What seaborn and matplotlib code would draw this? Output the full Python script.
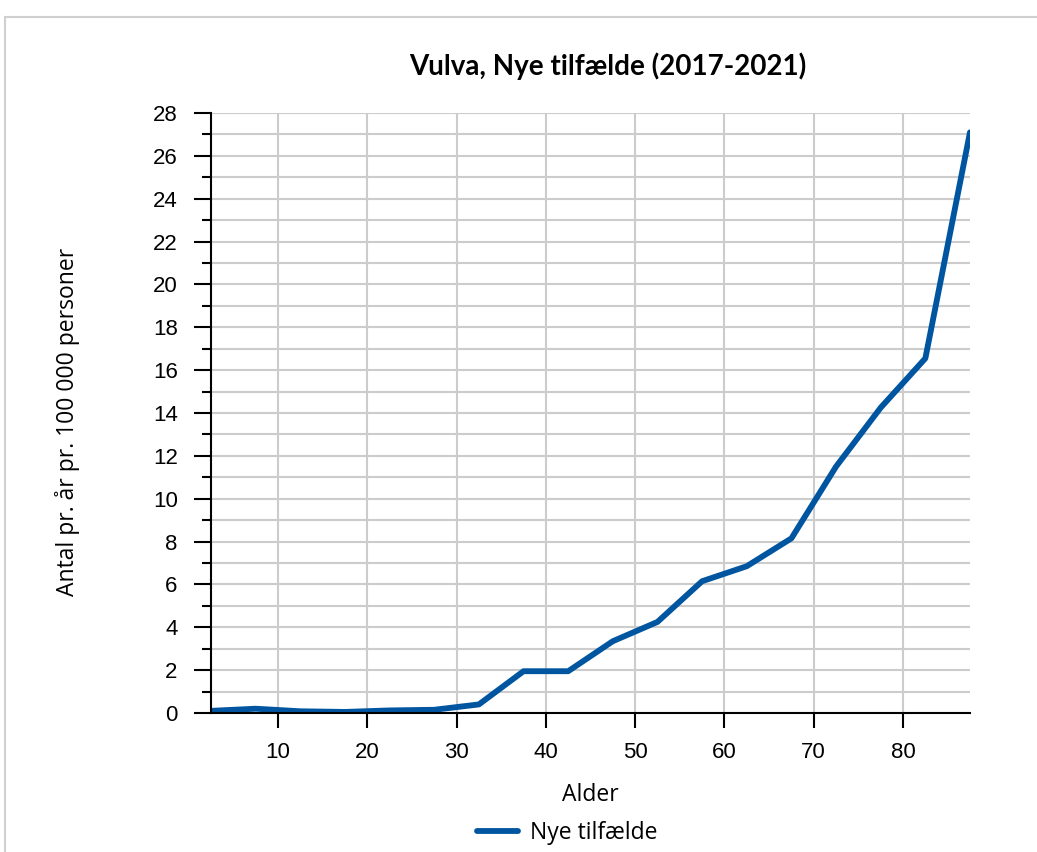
import numpy as np
import pandas as pd
import matplotlib.pyplot as plt
import seaborn as sns
from matplotlib.patches import Rectangle

# Data
alder = [2.5, 7.5, 12.5, 17.5, 22.5, 27.5, 32.5, 37.5, 42.5, 47.5,
         52.5, 57.5, 62.5, 67.5, 72.5, 77.5, 82.5, 87.5]
nye_tilfaelde = [0.1, 0.2, 0.08, 0.05, 0.12, 0.15, 0.4, 1.95, 1.95, 3.35,
                 4.25, 6.15, 6.85, 8.15, 11.5, 14.25, 16.55, 27.1]
x_ticks = [10, 20, 30, 40, 50, 60, 70, 80]
y_ticks = list(range(0, 29, 2))

df = pd.DataFrame({'Alder': alder, 'Nye tilfælde': nye_tilfaelde})

sns.set_style('white')
plt.rcParams['text.color'] = 'black'
plt.rcParams['xtick.color'] = 'black'
plt.rcParams['ytick.color'] = 'black'
line_color = '#0055a0'

fig = plt.figure(figsize=(10.37, 8.52), dpi=100)
ax = fig.add_axes([211 / 1037, 1 - 713 / 852, (970 - 211) / 1037, (713 - 113) / 852])

sns.lineplot(data=df, x='Alder', y='Nye tilfælde', ax=ax, color=line_color,
             linewidth=4.2, label='Nye tilfælde', legend=False)

ax.set_xlim(2.5, 87.5)
ax.set_ylim(0, 28)
ax.set_xticks(x_ticks)
ax.set_yticks(y_ticks)
ax.set_yticks(np.arange(1, 28, 2), minor=True)

ax.grid(True, which='both', axis='y', color='#cccccc', linewidth=1.5)
ax.grid(True, which='major', axis='x', color='#cccccc', linewidth=1.5)
ax.set_axisbelow(True)

for s in ['top', 'right']:
    ax.spines[s].set_visible(False)
for s in ['left', 'bottom']:
    ax.spines[s].set_color('black')
    ax.spines[s].set_linewidth(1.5)

# seaborn's white style hides the ticks, so switch them back on
ax.tick_params(axis='x', which='major', bottom=True, direction='out', length=11, width=1.5,
               colors='black', labelsize=16, pad=10)
ax.tick_params(axis='y', which='major', left=True, direction='out', length=12, width=1.5,
               colors='black', labelsize=16, pad=12)
ax.tick_params(axis='y', which='minor', left=True, direction='out', length=6.5, width=1.5,
               color='black')
for lbl in ax.get_xticklabels() + ax.get_yticklabels():
    lbl.set_fontfamily('Liberation Sans')

ax.set_xlabel('')
ax.set_ylabel('')

fig.text(608 / 1037, 1 - 66 / 852, 'Vulva, Nye tilfælde (2017-2021)', ha='center', va='center',
         fontsize=20, fontweight='bold', family='Lato')
fig.text(590 / 1037, 1 - 795 / 852, 'Alder', ha='center', va='center',
         fontsize=16.5, family='Open Sans')
fig.text(68 / 1037, 1 - 422 / 852, 'Antal pr. år pr. 100 000 personer', ha='center', va='center',
         rotation=90, fontsize=16.5, family='Open Sans')

# legend below
handles, labels = ax.get_legend_handles_labels()
fig.legend(handles, labels, loc='center', bbox_to_anchor=(567 / 1037, 1 - 833 / 852),
           frameon=False, prop={'family': 'Open Sans', 'size': 16.5},
           handlelength=1.8, handletextpad=0.5)

# thin outer frame
fig.patches.append(Rectangle((5 / 1037, -0.1), 1.2, 1.1 - 17 / 852, transform=fig.transFigure,
                             fill=False, edgecolor='#d0d0d0', linewidth=1.5))

fig.savefig('out.png', dpi=100)
